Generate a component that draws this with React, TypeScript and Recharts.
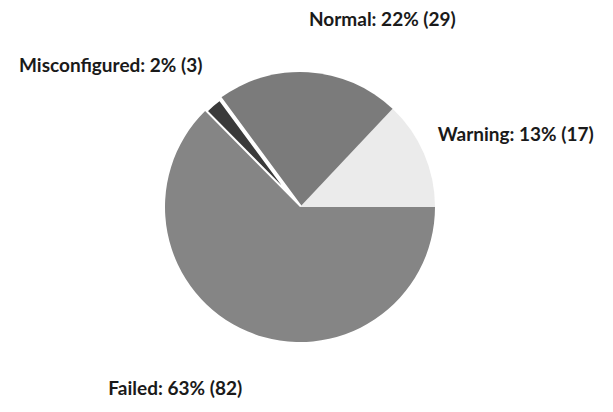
import React from 'react'
import { PieChart, Pie, Cell } from 'recharts'

const statuses = ['Warning', 'Normal', 'Misconfigured', 'Failed']
const counts = [17, 29, 3, 82]
const COLORS = ['#ebebeb', '#7b7b7b', '#3a3a3a', '#858585']

const data = statuses.map((name, i) => ({ name, value: counts[i] }))

const RAD = Math.PI / 180

// labels sit on an ellipse round the pie, pushed away from it on the left/right
function renderLabel(props: any) {
  const { cx, cy, midAngle, percent, name, value } = props
  const cos = Math.cos(-midAngle * RAD)
  const sin = Math.sin(-midAngle * RAD)
  const x = cx + 150 * cos
  const y = cy + 3 + 192 * sin
  return (
    <text
      x={x}
      y={y}
      textAnchor={cos >= 0 ? 'start' : 'end'}
      dominantBaseline="central"
      fill="#1a1a1a"
      fontFamily="Lato"
      fontWeight="bold"
      fontSize={19}
    >
      {`${name}: ${Math.round(percent * 100)}% (${value})`}
    </text>
  )
}

export default function App() {
  return (
    <div style={{ position: 'absolute', left: 0, top: 0, background: '#fff' }}>
      <PieChart width={613} height={412} margin={{ top: 0, right: 0, bottom: 0, left: 0 }}>
        <Pie
          data={data}
          dataKey="value"
          nameKey="name"
          cx={300}
          cy={207}
          outerRadius={135}
          startAngle={0}
          endAngle={360}
          label={renderLabel}
          labelLine={false}
          isAnimationActive={false}
        >
          {data.map((entry, index) => (
            <Cell
              key={`cell-${index}`}
              fill={COLORS[index]}
              stroke={entry.name === 'Misconfigured' ? '#fff' : 'none'}
              strokeWidth={entry.name === 'Misconfigured' ? 4 : 0}
            />
          ))}
        </Pie>
      </PieChart>
    </div>
  )
}
